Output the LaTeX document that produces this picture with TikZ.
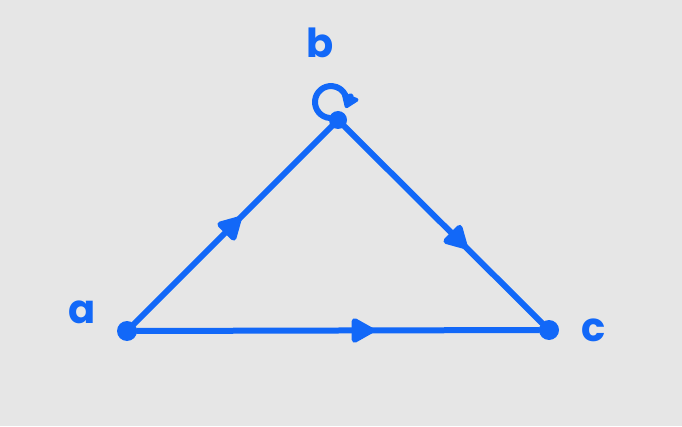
\documentclass[tikz,border=0pt]{standalone}
\usepackage{fontspec}
\setmainfont{Poppins}
\usetikzlibrary{arrows.meta,decorations.markings}
\definecolor{penblue}{RGB}{18,104,248}
\definecolor{boardgray}{RGB}{230,230,230}
\tikzset{
	vtx/.style={circle, fill=penblue, inner sep=0pt, minimum size=20pt},
	lbl/.style={text=penblue, font=\fontsize{40}{40}\selectfont\bfseries},
	edgeline/.style={draw=penblue, line width=6pt, line cap=round},
	midarrow/.style={postaction={decorate}, decoration={markings,
		mark=at position #1 with {\arrow{Triangle[round,length=26pt,width=27pt]}}}}
}

\begin{document}
\begin{tikzpicture}[x=1pt, y=1pt, penblue]
			%%%%% START %%%%%
			
			\fill[boardgray] (0, 0) rectangle (682, 426);
			\useasboundingbox (0, 0) rectangle (682, 426);
			
			\node[vtx] (a) at (127, 95) {};
			\node[vtx, minimum size=18pt] (b) at (338, 306) {};
			\node[vtx] (c) at (549, 96) {};
			
			\node[lbl] (la) at (82, 114) {a};
			\node[lbl] (lb) at (320, 383) {b};
			\node[lbl] (lc) at (594, 96) {c};
			
			\draw[edgeline, midarrow=0.54] (a) -- (b);
			\draw[edgeline, midarrow=0.62] (b) -- (c);
			\draw[edgeline, midarrow=0.59] (a) -- (c);
			
			% self loop on b
			\draw[edgeline, -{Triangle[round,length=15pt,width=20pt]}] (b) ++(-8.4, 2) arc[start angle=265, end angle=-22, radius=16];
			
			%%%%% END %%%%%
		\end{tikzpicture}
\end{document}
